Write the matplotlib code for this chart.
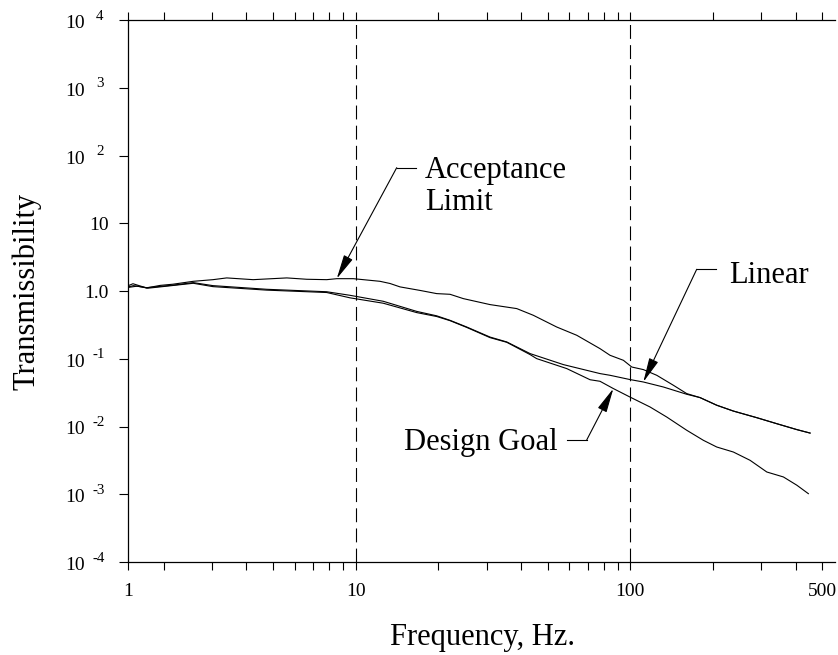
import numpy as np
import matplotlib
matplotlib.use('Agg')
import matplotlib.pyplot as plt
import matplotlib.transforms as mtransforms
from matplotlib.ticker import FixedLocator, NullLocator, NullFormatter

plt.rcParams['font.family'] = ['Liberation Serif', 'DejaVu Serif']
plt.rcParams['lines.scale_dashes'] = False

# ---------------- data ----------------
acc_f = [1.485, 1.544, 1.73, 1.94, 2.16, 2.56, 3.02, 3.39, 4.23, 5.61, 6.63, 7.84,
         8.53, 9.80, 12.26, 13.34, 14.5, 17.15, 19.73, 22.06, 24.66, 30.85, 38.6,
         44.36, 53.98, 63.86, 77.6, 84.4, 94.4, 101.3, 111.6, 124.9, 143.6, 160.6,
         179.6, 206.6, 237.5, 288.9, 341.8, 404.4, 451.9]
acc_t = [1.20, 1.28, 1.11, 1.21, 1.26, 1.39, 1.47, 1.56, 1.47, 1.56, 1.49, 1.47,
         1.52, 1.52, 1.39, 1.29, 1.15, 1.02, 0.915, 0.894, 0.772, 0.630, 0.550,
         0.438, 0.294, 0.222, 0.141, 0.1125, 0.0949, 0.0755, 0.0692, 0.057, 0.0406,
         0.0306, 0.0267, 0.0206, 0.0169, 0.0135, 0.0110, 0.0090, 0.0080]

lin_f = [1.485, 1.55, 1.73, 1.94, 2.16, 2.56, 3.02, 4.74, 7.84, 9.53, 12.6, 16.68,
         19.73, 22.06, 25.38, 30.85, 35.5, 43.2, 57.06, 77.6, 84.4, 99.8, 111.6,
         132.0, 160.6, 179.6, 206.6, 237.5, 288.9, 341.8, 404.4, 451.9]
lin_t = [1.15, 1.20, 1.12, 1.17, 1.22, 1.33, 1.20, 1.06, 0.975, 0.864, 0.705, 0.50,
         0.43, 0.369, 0.294, 0.209, 0.177, 0.119, 0.082, 0.0604, 0.057, 0.0493,
         0.0454, 0.0383, 0.0299, 0.0267, 0.0206, 0.0169, 0.0135, 0.0110, 0.0090,
         0.0080]

des_f = [1.485, 1.6, 1.75, 1.94, 2.56, 3.02, 4.74, 7.84, 9.53, 12.6, 16.68, 19.73,
         22.06, 25.38, 30.85, 35.5, 43.2, 45.6, 58.7, 71.4, 77.6, 86.8, 99.8, 118.1,
         135.8, 160.6, 184.6, 206.6, 237.5, 273.2, 314.4, 361.3, 404.4, 445.5]
des_t = [1.13, 1.18, 1.10, 1.15, 1.30, 1.16, 1.03, 0.95, 0.793, 0.66, 0.48, 0.42,
         0.365, 0.29, 0.205, 0.175, 0.115, 0.1005, 0.0716, 0.049, 0.0465, 0.0363,
         0.0272, 0.0194, 0.0138, 0.0088, 0.00626, 0.00498, 0.0042, 0.00317, 0.00213,
         0.0018, 0.00136, 0.00102]

x_major = [1.481, 10, 100, 500]
x_major_labels = ['1', '10', '100', '500']
x_minor = [2, 3, 4, 5, 6, 7, 8, 9, 20, 30, 40, 50, 60, 70, 80, 90, 200, 300, 400]
y_exponents = [4, 3, 2, 1, 0, -1, -2, -3, -4]
ref_lines = [10, 100]
XMIN, XMAX = 1.481, 557.0

# ---------------- figure ----------------
W, H = 838, 655
fig = plt.figure(figsize=(W / 100, H / 100), dpi=100)
L, R, T, B = 128, 835, 20, 562
ax = fig.add_axes([L / W, 1 - B / H, (R - L) / W, (B - T) / H])
ax.set_xscale('log')
ax.set_yscale('log')
ax.set_xlim(XMIN, XMAX)
ax.set_ylim(1e-4, 1e4)

def axfx(px):
    return (px - L) / (R - L)

def axfy(py):
    return (B - py) / (B - T)

for s in ['left', 'top', 'bottom']:
    ax.spines[s].set_linewidth(0.9)
    ax.spines[s].set_color('black')
ax.spines['right'].set_visible(False)

ax.xaxis.set_major_locator(FixedLocator(x_major))
ax.xaxis.set_minor_locator(FixedLocator(x_minor))
ax.set_xticklabels(x_major_labels)
ax.xaxis.set_minor_formatter(NullFormatter())
ax.tick_params(axis='x', which='both', direction='out', length=5.8, width=0.8,
               top=True, bottom=True, labelsize=14, pad=9.4, color='black')

ax.yaxis.set_major_locator(FixedLocator([10.0 ** k for k in y_exponents]))
ax.yaxis.set_minor_locator(NullLocator())
ax.set_yticklabels([''] * len(y_exponents))
ax.tick_params(axis='y', which='major', direction='out', length=6.5, width=0.8,
               left=True, right=False)

# y tick labels as "10" with a raised exponent
ytrans = ax.get_yaxis_transform()
for k in y_exponents:
    yv = 10.0 ** k
    if k in (0, 1):
        lab = '1.0' if k == 0 else '10'
        tr = mtransforms.offset_copy(ytrans, fig=fig, x=0, y=-6.7, units='dots')
        ax.text(axfx(108.5), yv, lab, transform=tr, ha='right', va='baseline', fontsize=14)
    else:
        tr = mtransforms.offset_copy(ytrans, fig=fig, x=0, y=-8, units='dots')
        ax.text(axfx(85), yv, '10', transform=tr, ha='right', va='baseline', fontsize=14)
        tr2 = mtransforms.offset_copy(ytrans, fig=fig, x=0, y=0.3, units='dots')
        ex_x = 96 if k > 0 else 92.5
        ax.text(axfx(ex_x), yv, str(k), transform=tr2, ha='left', va='baseline', fontsize=10.8)

# reference dashed lines
for xv in ref_lines:
    ax.axvline(xv, color='black', lw=0.8, ls=(0, (10, 4.5)))

# curves
for f, t in [(acc_f, acc_t), (lin_f, lin_t), (des_f, des_t)]:
    ax.plot(f, t, color='black', lw=0.8)

def on_curve(f, t, x):
    return 10 ** np.interp(np.log10(x), np.log10(f), np.log10(t))

def label(text, tx, ty, hx0, hx1, hy, tip_f, curve, ha='left'):
    ax.text(axfx(tx), axfy(ty), text, transform=ax.transAxes, ha=ha, va='top',
            fontsize=22, linespacing=1.15)
    ax.plot([axfx(hx0), axfx(hx1)], [axfy(hy), axfy(hy)], transform=ax.transAxes,
            color='black', lw=0.8, clip_on=False)
    tip = (tip_f, on_curve(curve[0], curve[1], tip_f))
    ax.annotate('', xy=tip, xycoords='data', xytext=(axfx(hx0), axfy(hy)),
                textcoords='axes fraction',
                arrowprops=dict(arrowstyle='-|>,head_length=1.5,head_width=0.3',
                                mutation_scale=10, lw=0.8, color='black',
                                shrinkA=0, shrinkB=0))

label('Acceptance\nLimit', 425, 156, 396.7, 416, 167.7, 8.53, (acc_f, acc_t))
label('Linear', 729, 261, 696.7, 716, 269.3, 111.6, (lin_f, lin_t))
label('Design Goal', 404, 428, 586.7, 566.7, 440, 86.8, (des_f, des_t))

fig.text(12.5 / W, 1 - 291 / H, 'Transmissibility', rotation=90, ha='left',
         va='center', fontsize=22)
fig.text(482 / W, 1 - 645 / H, 'Frequency, Hz.', ha='center', va='baseline',
         fontsize=22)

fig.savefig('out.png', dpi=100)
